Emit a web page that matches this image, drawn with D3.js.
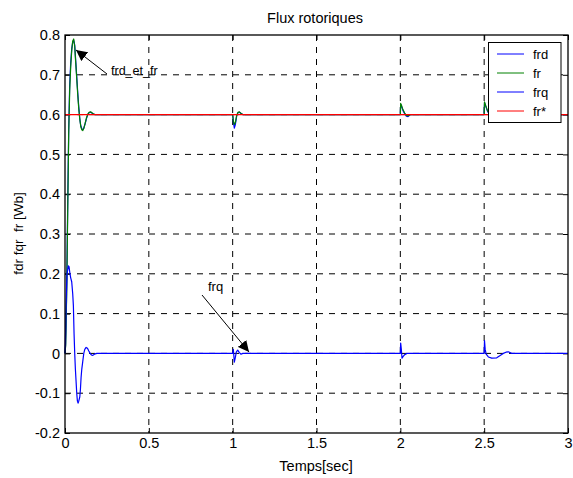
<!DOCTYPE html>
<html><head><meta charset="utf-8">
<script src="https://cdn.jsdelivr.net/npm/d3@7"></script>
<style>body{margin:0;background:#fff}svg{display:block}text{font-family:"Liberation Sans",Arial,sans-serif}</style>
</head><body><svg id="c" width="573" height="478"></svg>
<script>
const xTicks = [0, 0.5, 1, 1.5, 2, 2.5, 3];
const xTickLabels = ["0", "0.5", "1", "1.5", "2", "2.5", "3"];
const yTicks = [-0.2, -0.1, 0, 0.1, 0.2, 0.3, 0.4, 0.5, 0.6, 0.7, 0.8];
const yTickLabels = ["-0.2", "-0.1", "0", "0.1", "0.2", "0.3", "0.4", "0.5", "0.6", "0.7", "0.8"];

const frT = [0,0.004,0.01,0.016,0.022,0.028,0.034,0.04,0.046,0.052,0.058,0.064,0.07,0.076,0.082,0.088,0.094,0.1,0.106,0.112,0.12,0.128,0.136,0.144,0.152,0.16,0.17,0.18,0.2,
  1.0,1.004,1.01,1.016,1.024,1.032,1.04,1.05,1.06,
  2.0,2.002,2.008,2.016,2.026,2.036,2.046,2.06,
  2.5,2.502,2.51,2.52,2.535,2.55,2.6,3.0];
const frV = [0,0.02,0.15,0.35,0.55,0.66,0.72,0.76,0.785,0.79,0.77,0.73,0.69,0.65,0.615,0.59,0.57,0.562,0.56,0.565,0.578,0.592,0.601,0.606,0.607,0.605,0.601,0.6,0.6,
  0.6,0.585,0.575,0.58,0.598,0.606,0.607,0.603,0.6,
  0.6,0.628,0.622,0.612,0.604,0.598,0.597,0.6,
  0.6,0.632,0.622,0.61,0.6,0.597,0.6,0.6];
const frdT = frT;
const frdV = [0,0.025,0.16,0.37,0.56,0.675,0.73,0.765,0.782,0.786,0.775,0.735,0.695,0.655,0.62,0.59,0.572,0.565,0.562,0.566,0.577,0.59,0.6,0.605,0.606,0.604,0.601,0.6,0.6,
  0.6,0.582,0.566,0.575,0.597,0.605,0.606,0.603,0.6,
  0.6,0.626,0.62,0.61,0.602,0.596,0.595,0.6,
  0.6,0.63,0.62,0.608,0.599,0.596,0.6,0.6];
const frqT = [0,0.004,0.008,0.012,0.016,0.02,0.024,0.028,0.034,0.04,0.046,0.05,0.054,0.058,0.062,0.066,0.07,0.074,0.078,0.082,0.088,0.092,0.096,0.1,0.106,0.112,0.118,0.126,0.134,0.142,0.15,0.158,0.166,0.175,0.19,
  1.0,1.004,1.01,1.016,1.022,1.03,1.04,1.05,1.06,
  2.0,2.002,2.006,2.01,2.016,2.026,2.04,
  2.5,2.502,2.506,2.512,2.525,2.545,2.575,2.6,2.614,2.63,2.644,2.664,3.0];
const frqV = [0,0.06,0.15,0.2,0.21,0.22,0.218,0.205,0.19,0.18,0.15,0.12,0.05,0.0,-0.04,-0.07,-0.1,-0.12,-0.125,-0.12,-0.11,-0.09,-0.06,-0.04,-0.02,0.0,0.01,0.015,0.013,0.006,0.0,-0.004,-0.005,-0.002,0,
  0,0.01,-0.022,-0.01,0.004,0.008,0.002,-0.002,0,
  0,0.026,0.01,-0.012,-0.008,-0.003,0,
  0,0.032,0.01,-0.002,-0.009,-0.012,-0.011,-0.004,0,0.003,0.004,0,0];
const frRefT = [0, 3];
const frRefV = [0.6, 0.6];

const legendNames = ["frd", "fr", "frq", "fr*"];
const colors = ["#0000ff", "#008000", "#0000ff", "#ff0000"];

const svg = d3.select("#c");
const L = 65, R = 568, T = 35, B = 433;
const x = d3.scaleLinear().domain([0, 3]).range([L, R]);
const y = d3.scaleLinear().domain([-0.2, 0.8]).range([B, T]);
const FS = 14.5;

// grid
const g = svg.append("g");
g.selectAll(".gx").data(xTicks.slice(1, -1)).enter().append("line")
  .attr("x1", d => x(d)).attr("x2", d => x(d)).attr("y1", T).attr("y2", B)
  .attr("stroke", "#000").attr("stroke-width", 1).attr("stroke-dasharray", "6,6");
g.selectAll(".gy").data(yTicks.slice(1, -1)).enter().append("line")
  .attr("y1", d => y(d)).attr("y2", d => y(d)).attr("x1", L).attr("x2", R)
  .attr("stroke", "#000").attr("stroke-width", 1).attr("stroke-dasharray", "6,6");

// axes
const ax = svg.append("g").attr("transform", `translate(0,${B})`)
  .call(d3.axisBottom(x).tickValues(xTicks).tickFormat((d, i) => xTickLabels[i]).tickSizeInner(-5).tickSizeOuter(0).tickPadding(5));
const axT = svg.append("g").attr("transform", `translate(0,${T})`)
  .call(d3.axisTop(x).tickValues(xTicks).tickFormat("").tickSizeInner(-5).tickSizeOuter(0));
const ay = svg.append("g").attr("transform", `translate(${L},0)`)
  .call(d3.axisLeft(y).tickValues(yTicks).tickFormat((d, i) => yTickLabels[i]).tickSizeInner(-5).tickSizeOuter(0).tickPadding(5));
const ayR = svg.append("g").attr("transform", `translate(${R},0)`)
  .call(d3.axisRight(y).tickValues(yTicks).tickFormat("").tickSizeInner(-5).tickSizeOuter(0));
[ax, axT, ay, ayR].forEach(a => {
  a.select(".domain").remove();
  a.selectAll("line").attr("stroke", "#000");
  a.selectAll("text").attr("font-size", FS).attr("fill", "#000").attr("font-family", "Liberation Sans, Arial, sans-serif");
});

// series
const line = d3.line().x(d => x(d[0])).y(d => y(d[1]));
const series = [[frdT, frdV], [frT, frV], [frqT, frqV], [frRefT, frRefV]];
series.forEach((s, i) => {
  const pts = s[0].map((t, k) => [t, s[1][k]]);
  svg.append("path").datum(pts).attr("d", line).attr("fill", "none")
    .attr("stroke", colors[i]).attr("stroke-width", 1.2).attr("stroke-linejoin", "round");
});

// box
svg.append("rect").attr("x", L).attr("y", T).attr("width", R - L).attr("height", B - T)
  .attr("fill", "none").attr("stroke", "#000").attr("stroke-width", 1.3);

// title & labels
svg.append("text").attr("x", 315).attr("y", 22.7).attr("text-anchor", "middle").attr("font-size", FS).text("Flux rotoriques");
svg.append("text").attr("x", 316).attr("y", 470.5).attr("text-anchor", "middle").attr("font-size", FS).text("Temps[sec]");
svg.append("text").attr("transform", `translate(22.7,233.5) rotate(-90)`).attr("text-anchor", "middle").attr("font-size", 13.5)
  .style("white-space", "pre").text("fdr fqr  fr [Wb]");

// annotations
const defs = svg.append("defs");
defs.append("marker").attr("id", "ah").attr("viewBox", "0 0 10 10").attr("refX", 10).attr("refY", 5)
  .attr("markerWidth", 11).attr("markerHeight", 11).attr("markerUnits", "userSpaceOnUse").attr("orient", "auto")
  .append("path").attr("d", "M0,0 L10,5 L0,10 Z").attr("fill", "#000");
function arrow(t0, v0, t1, v1) {
  svg.append("line").attr("x1", x(t0)).attr("y1", y(v0)).attr("x2", x(t1)).attr("y2", y(v1))
    .attr("stroke", "#000").attr("stroke-width", 1).attr("marker-end", "url(#ah)");
}
arrow(x.invert(107), y.invert(74), x.invert(76), y.invert(50));
svg.append("text").attr("x", 111).attr("y", 75).attr("font-size", 12.5).text("frd_et_fr");
arrow(x.invert(202), y.invert(295), x.invert(249), y.invert(352));
svg.append("text").attr("x", 208).attr("y", 291).attr("font-size", 13).text("frq");

// legend
const lg = svg.append("g");
lg.append("rect").attr("x", 488.5).attr("y", 42.5).attr("width", 72.5).attr("height", 80)
  .attr("fill", "#fff").attr("stroke", "#000").attr("stroke-width", 1);
legendNames.forEach((n, i) => {
  const yy = 54 + i * 19;
  lg.append("line").attr("x1", 497).attr("x2", 524).attr("y1", yy).attr("y2", yy).attr("stroke", colors[i]).attr("stroke-width", 1);
  lg.append("text").attr("x", 533).attr("y", yy + 4.5).attr("font-size", 13).text(n);
});
</script></body></html>
